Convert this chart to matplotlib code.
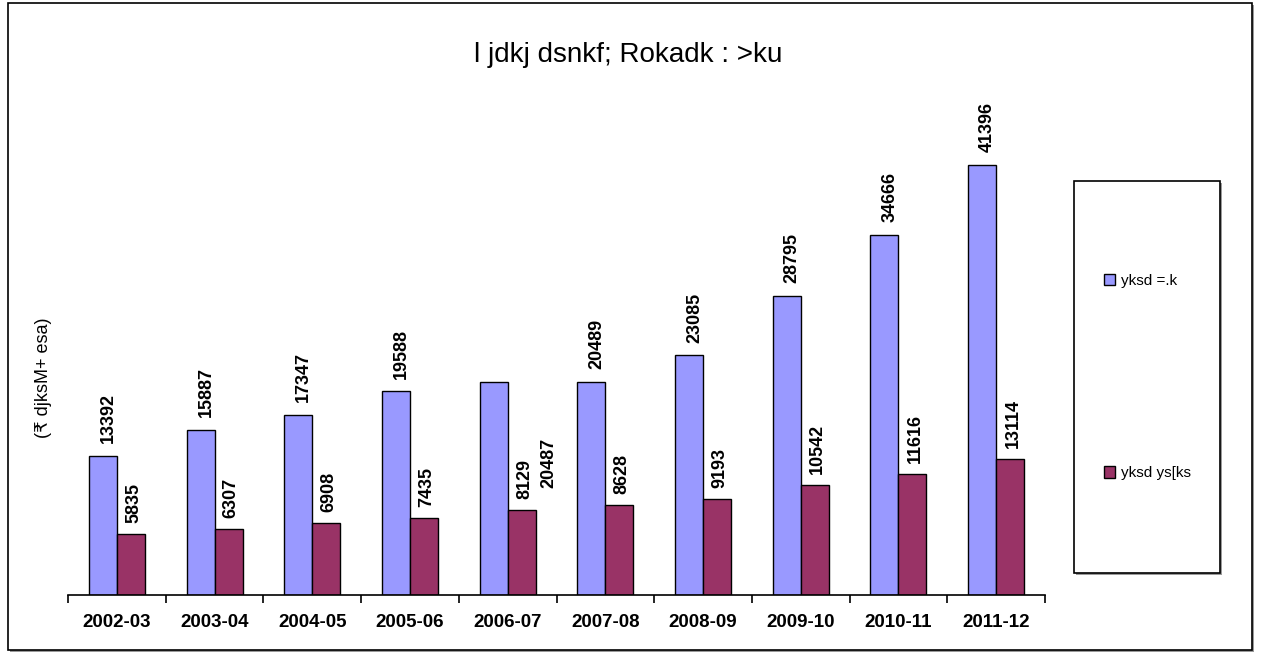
import matplotlib.pyplot as plt
from matplotlib.patches import Rectangle
import numpy as np

years = ["2002-03", "2003-04", "2004-05", "2005-06", "2006-07",
         "2007-08", "2008-09", "2009-10", "2010-11", "2011-12"]
lok_rin = [13392, 15887, 17347, 19588, 20487, 20489, 23085, 28795, 34666, 41396]
lok_lekha = [5835, 6307, 6908, 7435, 8129, 8628, 9193, 10542, 11616, 13114]

title = "l jdkj dsnkf; Rokadk : >ku"
ylabel = "(₹ djksM+ esa)"
legend_labels = ["yksd =.k", "yksd ys[ks"]

narrow = ["Liberation Sans Narrow", "Liberation Sans", "DejaVu Sans"]
plt.rcParams["font.family"] = ["Liberation Sans", "DejaVu Sans"]

W, H = 1267, 657
fig = plt.figure(figsize=(W / 100, H / 100), dpi=100)

def fx(px):
    return px / W

def fy(py):
    return 1 - py / H

# outer frame with shadow
fig.patches.append(Rectangle((fx(10), fy(652)), fx(1244), 647 / H, transform=fig.transFigure,
                             facecolor="#9a9a9a", edgecolor="none", zorder=0))
fig.patches.append(Rectangle((fx(8), fy(650)), fx(1244), 647 / H, transform=fig.transFigure,
                             facecolor="white", edgecolor="black", lw=1.2, zorder=0.1))

ax = fig.add_axes([fx(68), fy(595), fx(1045 - 68), (595 - 96) / H])
ax.set_zorder(1)
ax.patch.set_alpha(0)

x = np.arange(len(years))
w = 0.287
b1 = ax.bar(x - w / 2, lok_rin, w, color="#9999ff", edgecolor="black", lw=1.0,
            label=legend_labels[0])
b2 = ax.bar(x + w / 2, lok_lekha, w, color="#993366", edgecolor="black", lw=1.0,
            label=legend_labels[1])

# value labels
special = {4: (40, -76)}
for i, v in enumerate(lok_rin):
    off = special.get(i, (4, 9))
    ax.annotate(str(v), (x[i] - w / 2, v), xytext=off, textcoords="offset points",
                rotation=90, ha="center", va="bottom", fontsize=13, fontweight="bold")
for i, v in enumerate(lok_lekha):
    ax.annotate(str(v), (x[i] + w / 2, v), xytext=(2, 8), textcoords="offset points",
                rotation=90, ha="center", va="bottom", fontsize=13, fontweight="bold")

ax.set_xlim(-0.5, len(years) - 0.5)
ax.set_ylim(0, 48000)
for s in ["left", "right", "top"]:
    ax.spines[s].set_visible(False)
ax.spines["bottom"].set_linewidth(1.2)
ax.set_yticks([])
ax.set_xticks(x)
ax.set_xticklabels(years, fontsize=13.5, fontweight="bold")
ax.set_xticks(np.arange(-0.5, len(years)), minor=True)
ax.tick_params(axis="x", which="major", length=0, pad=14)
ax.tick_params(axis="x", which="minor", length=6, width=1.2, direction="out")

fig.text(fx(628), fy(55), title, ha="center", va="center", fontsize=20, family=narrow)
fig.text(fx(44), fy(378), ylabel, ha="center", va="center", rotation=90, fontsize=13,
         family=narrow)

# legend box with shadow
fig.patches.append(Rectangle((fx(1076), fy(575)), fx(146), 392 / H, transform=fig.transFigure,
                             facecolor="#9a9a9a", edgecolor="none", zorder=0.2))
fig.patches.append(Rectangle((fx(1074), fy(573)), fx(146), 392 / H, transform=fig.transFigure,
                             facecolor="white", edgecolor="black", lw=1.2, zorder=0.3))
leg = fig.legend(handles=[b1, b2], labels=legend_labels, loc="center left",
                 bbox_to_anchor=(fx(1090), fy(377)), frameon=False,
                 labelspacing=11.7, handlelength=0.75, handleheight=0.75,
                 handletextpad=0.4, prop={"family": narrow, "size": 11})

fig.savefig("out.png", dpi=100)
